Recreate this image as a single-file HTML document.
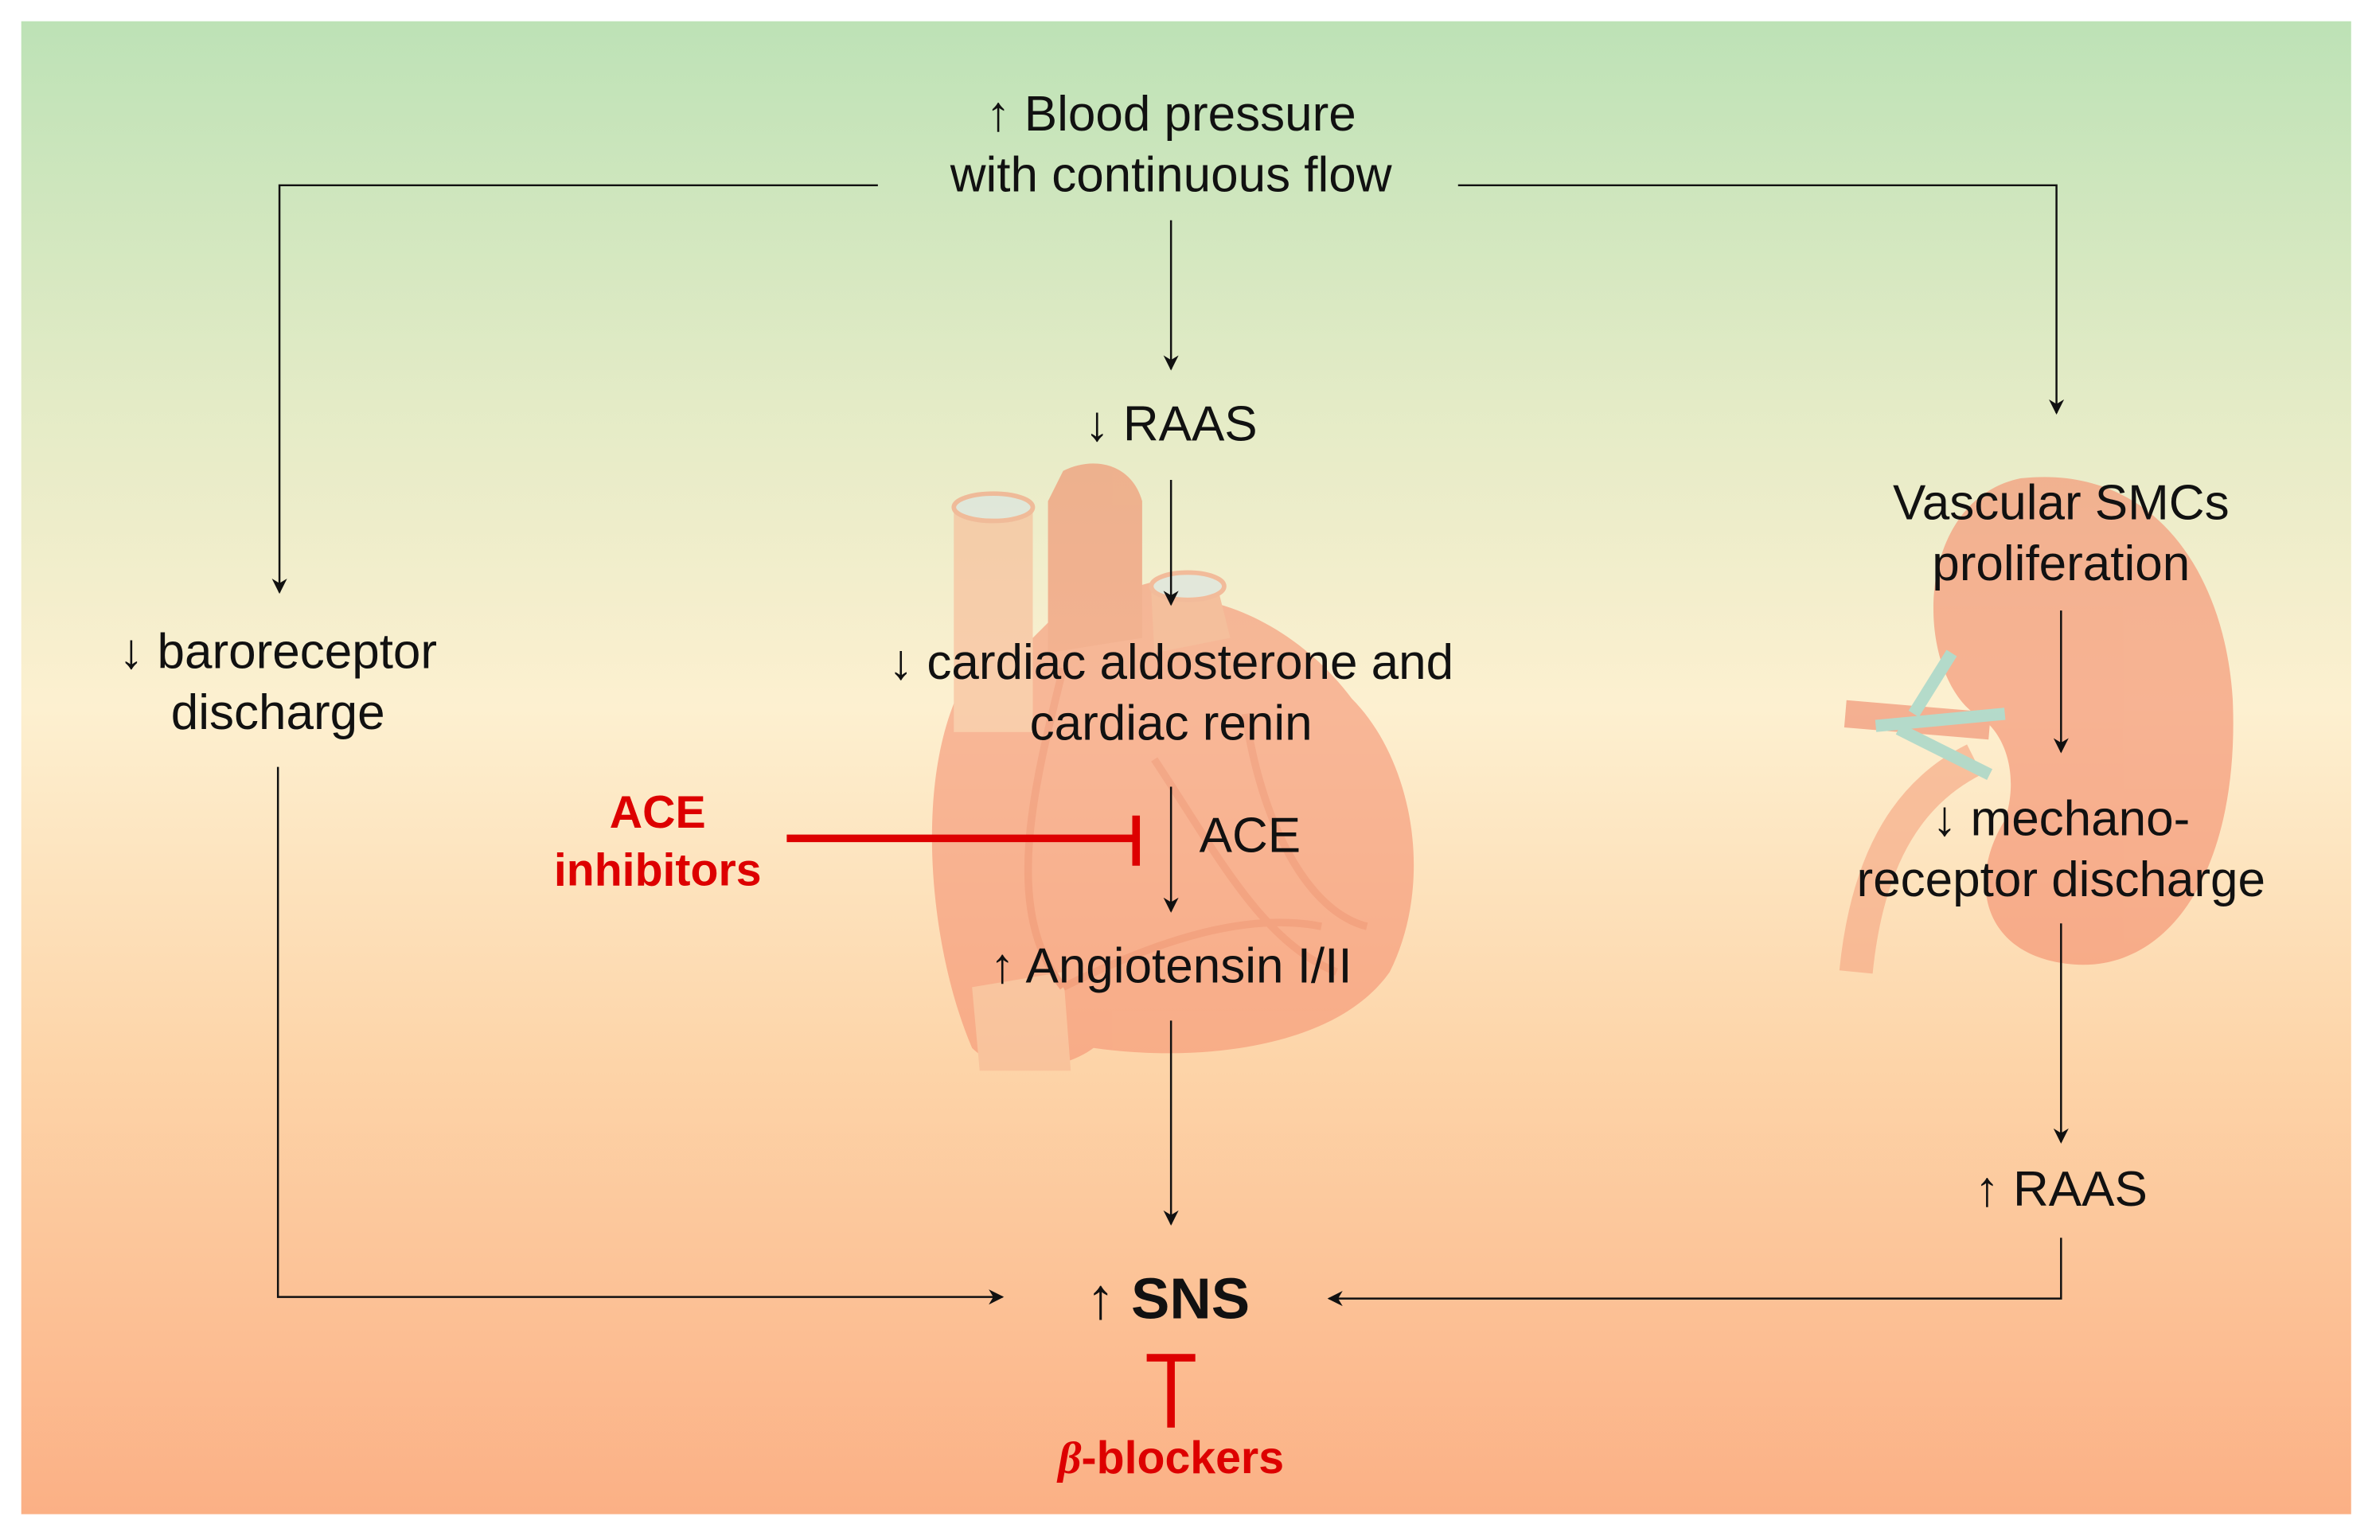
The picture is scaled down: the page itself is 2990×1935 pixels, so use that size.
<!DOCTYPE html>
<html><head><meta charset="utf-8"><style>
html,body{margin:0;padding:0;background:#fff;}
svg{display:block;}
text{font-family:"Liberation Sans",Arial,sans-serif;}
</style></head><body>
<svg width="2990" height="1935" viewBox="0 0 1567 1014" preserveAspectRatio="none" xmlns="http://www.w3.org/2000/svg">
<defs>
<linearGradient id="bg" x1="0" y1="0" x2="0" y2="1">
<stop offset="0" stop-color="#bde2b6"/>
<stop offset="0.25" stop-color="#e3ebc6"/>
<stop offset="0.46" stop-color="#fdf0d0"/>
<stop offset="0.7" stop-color="#fdd4a8"/>
<stop offset="1" stop-color="#fbb085"/>
</linearGradient>
<marker id="ar" markerWidth="10" markerHeight="10" refX="9" refY="5" orient="auto" markerUnits="userSpaceOnUse">
<path d="M0,0 L10,5 L0,10 L3,5 Z" fill="#111"/>
</marker>
</defs>
<rect x="0" y="0" width="1567" height="1014" fill="#fff"/>
<rect x="14" y="14" width="1534" height="983" fill="url(#bg)"/>

<!-- heart -->
<g opacity="0.6">
<path d="M640,440 C600,500 610,620 640,690 C660,710 700,705 720,690 C790,700 880,690 915,640 C945,580 930,500 890,460 C860,420 820,400 790,395 L770,380 L700,400 L680,420 Z" fill="#f59272"/>
<rect x="628" y="332" width="52" height="150" fill="#f8b894"/>
<ellipse cx="654" cy="334" rx="26" ry="9" fill="#d8e4e4" stroke="#f29a7a" stroke-width="3"/>
<path d="M690,330 L700,310 C720,300 745,305 752,330 L752,420 L690,430 Z" fill="#f08a68"/>
<path d="M758,390 L800,380 L810,420 L760,430 Z" fill="#f4a07c"/>
<ellipse cx="782" cy="386" rx="24" ry="9" fill="#d8e4e4" stroke="#f29a7a" stroke-width="3"/>
<path d="M640,650 L700,640 L705,705 L645,705 Z" fill="#f8b894"/>
<path d="M700,440 C680,520 660,600 700,650 M760,500 C800,560 830,620 880,640 M820,470 C830,540 860,600 900,610 M700,650 C760,620 820,600 870,610" stroke="#ee7c5c" stroke-width="5" fill="none"/>
</g>

<!-- kidney -->
<g opacity="0.65">
<path d="M1330,315 C1420,305 1465,380 1470,460 C1475,570 1430,640 1365,635 C1305,630 1295,580 1320,540 C1330,510 1320,480 1300,470 C1260,440 1260,330 1330,315 Z" fill="#f59272"/>
<path d="M1300,500 C1260,520 1230,560 1222,640" stroke="#f6a884" stroke-width="22" fill="none"/>
<path d="M1215,470 L1310,478" stroke="#f08e70" stroke-width="18"/>
<path d="M1235,478 L1320,470 M1260,470 L1285,430 M1250,480 L1310,510" stroke="#8ed0c8" stroke-width="8" fill="none"/>
</g>

<!-- lines -->
<g stroke="#111" stroke-width="1.3" fill="none">
<path d="M578,122 H184 V390" marker-end="url(#ar)"/>
<path d="M960,122 H1354 V272" marker-end="url(#ar)"/>
<path d="M771,145 V243" marker-end="url(#ar)"/>
<path d="M771,316 V398" marker-end="url(#ar)"/>
<path d="M771,518 V600" marker-end="url(#ar)"/>
<path d="M771,672 V806" marker-end="url(#ar)"/>
<path d="M1357,402 V495" marker-end="url(#ar)"/>
<path d="M1357,608 V752" marker-end="url(#ar)"/>
<path d="M183,505 V854 H660" marker-end="url(#ar)"/>
<path d="M1357,815 V855 H875" marker-end="url(#ar)"/>
</g>
<g stroke="#dd0000" stroke-width="5" fill="none">
<path d="M518,552 H748"/>
<path d="M748,537 V570"/>
<path d="M771,895 V940"/>
<path d="M755,894 H787"/>
</g>

<g font-size="32.5" fill="#111" text-anchor="middle">
<text x="771" y="86">↑ Blood pressure</text>
<text x="771" y="126">with continuous flow</text>
<text x="771" y="290">↓ RAAS</text>
<text x="771" y="447">↓ cardiac aldosterone and</text>
<text x="771" y="487">cardiac renin</text>
<text x="823" y="561">ACE</text>
<text x="771" y="647">↑ Angiotensin I/II</text>
<text x="183" y="440">↓ baroreceptor</text>
<text x="183" y="480">discharge</text>
<text x="1357" y="342">Vascular SMCs</text>
<text x="1357" y="382">proliferation</text>
<text x="1357" y="550">↓ mechano-</text>
<text x="1357" y="590">receptor discharge</text>
<text x="1357" y="794">↑ RAAS</text>
<text x="769" y="868" font-size="38" font-weight="bold">↑ SNS</text>
</g>
<g font-size="30" fill="#dd0000" font-weight="bold" text-anchor="middle">
<text x="433" y="545">ACE</text>
<text x="433" y="583">inhibitors</text>
<text x="771" y="970"><tspan font-style="italic" font-family="'Liberation Serif',serif">β</tspan>-blockers</text>
</g>
</svg>
</body></html>
